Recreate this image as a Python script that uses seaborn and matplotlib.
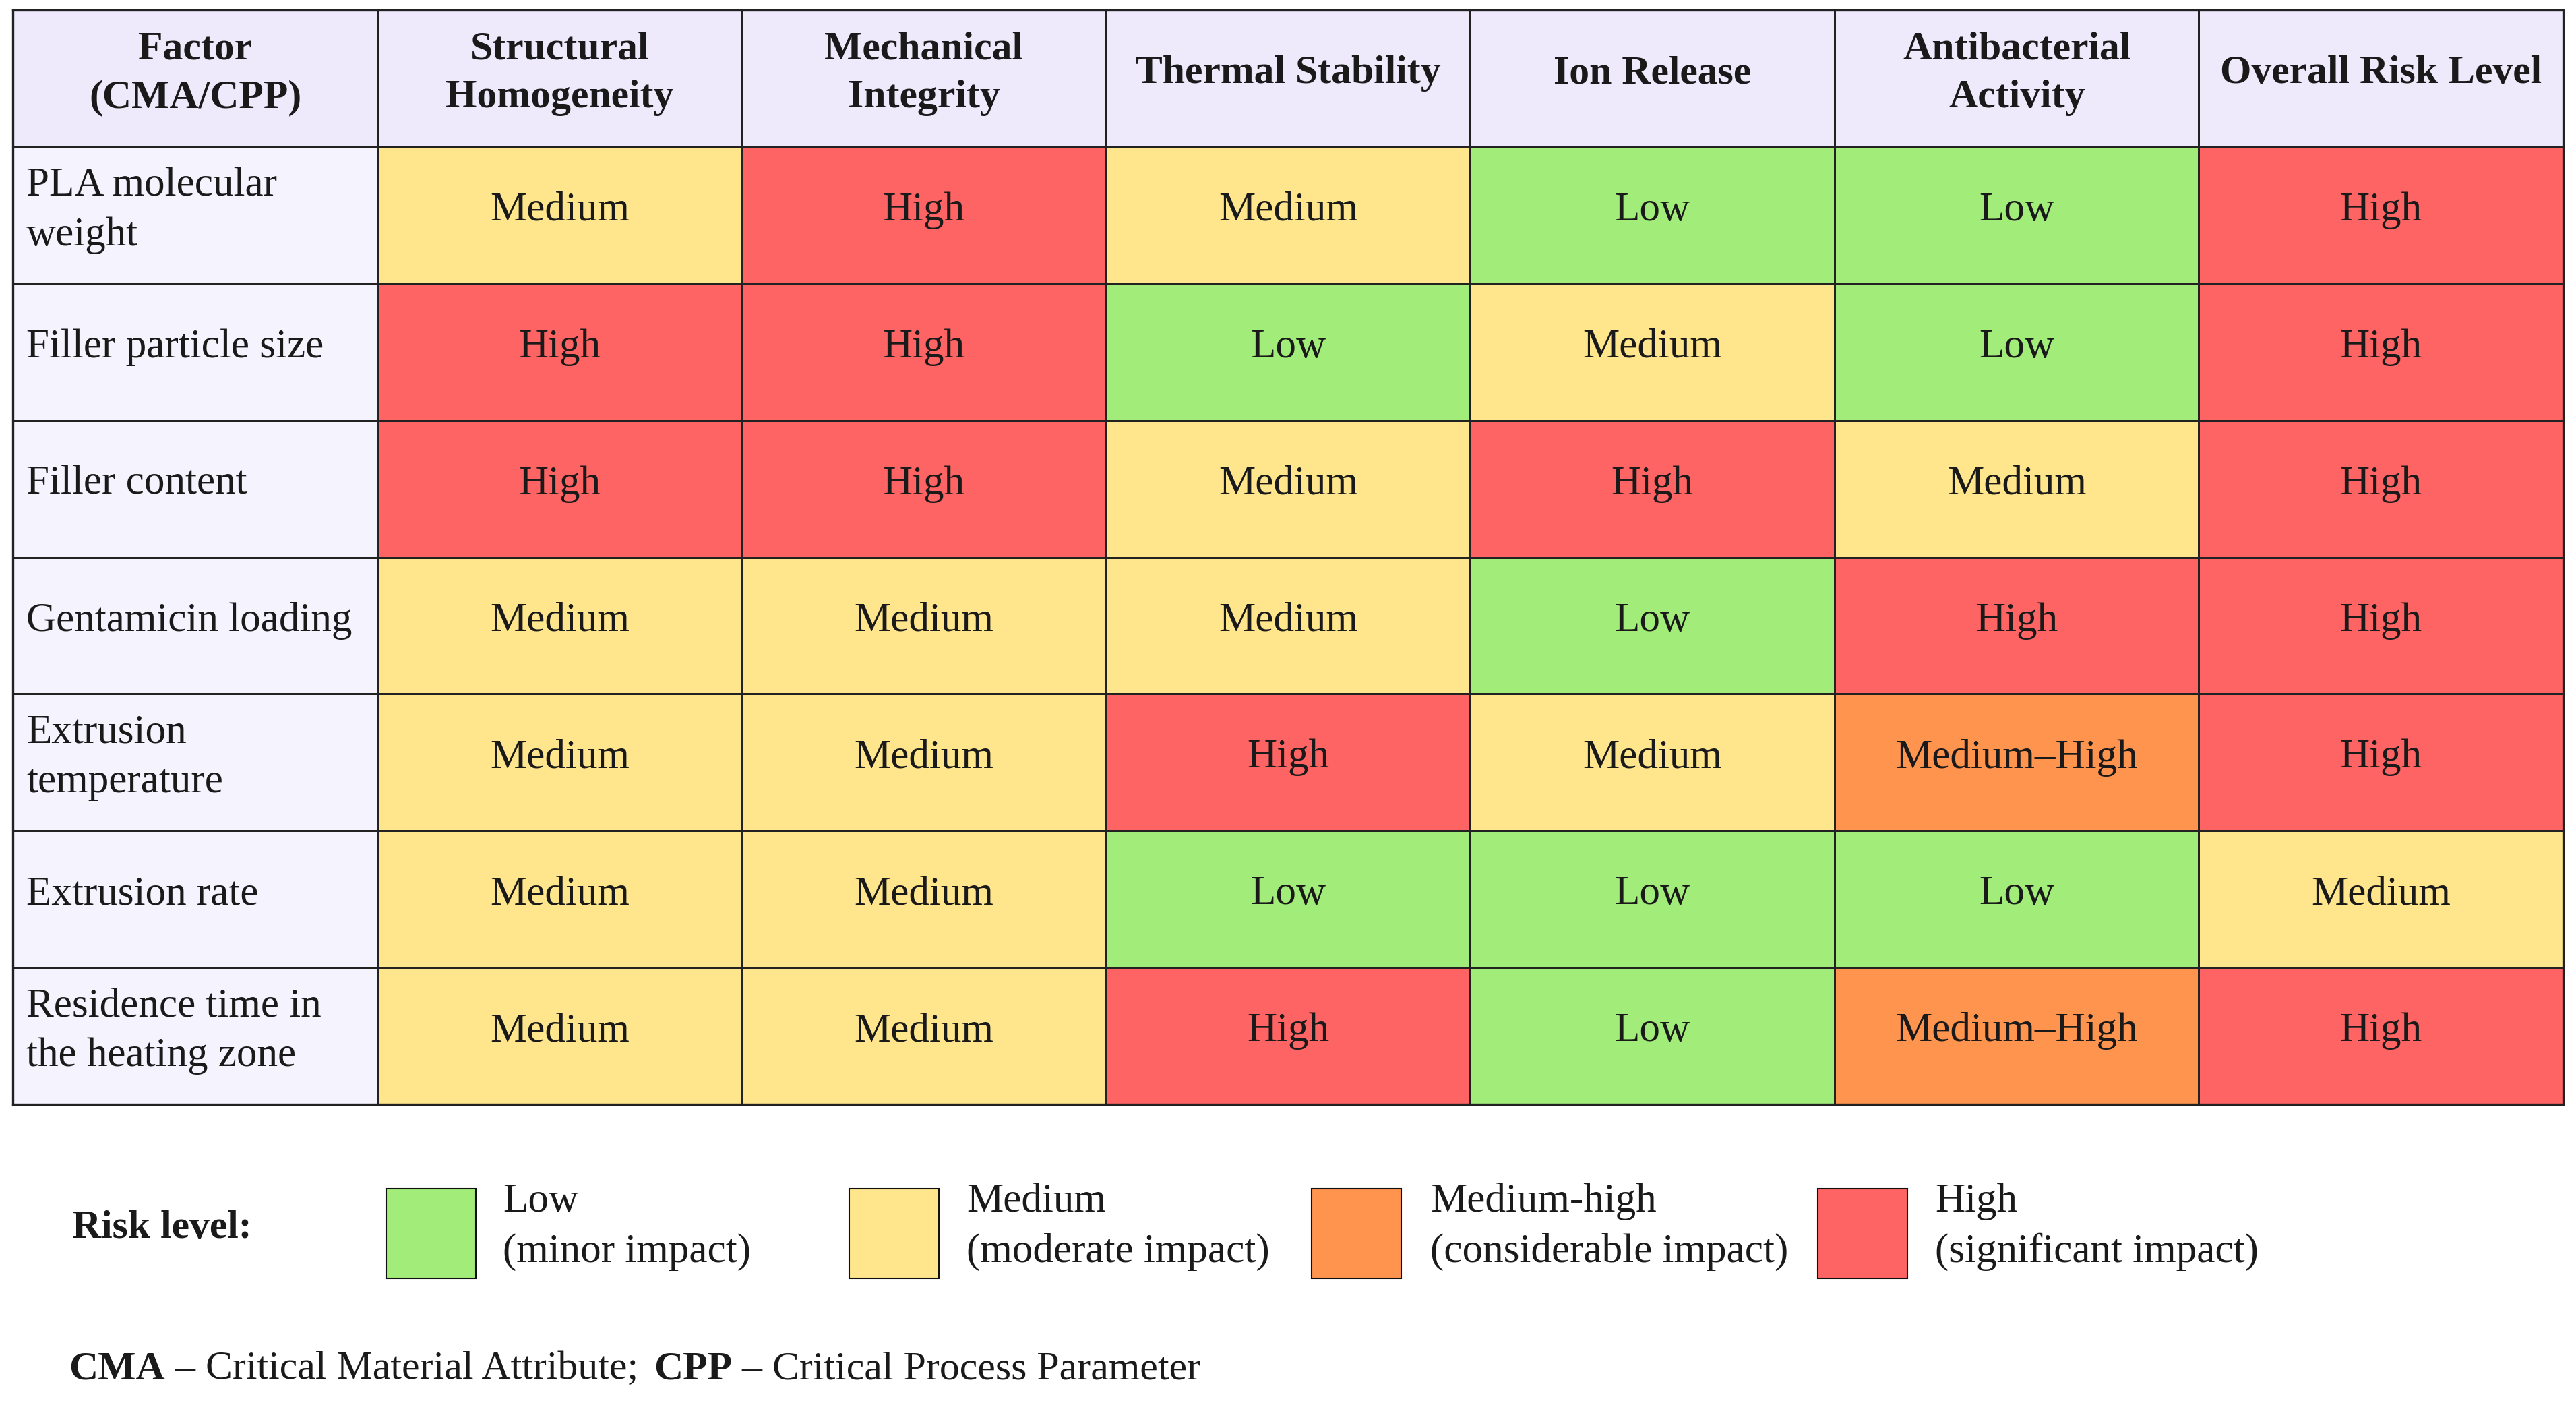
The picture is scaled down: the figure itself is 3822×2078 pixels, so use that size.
import numpy as np
import pandas as pd
import matplotlib
matplotlib.use("Agg")
import matplotlib.pyplot as plt
import seaborn as sns
from matplotlib.colors import ListedColormap
from matplotlib.patches import Rectangle

# ---------------- data ----------------
corner_label = "Factor\n(CMA/CPP)"
attributes = ["Structural\nHomogeneity", "Mechanical\nIntegrity", "Thermal Stability",
              "Ion Release", "Antibacterial\nActivity", "Overall Risk Level"]
factors = ["PLA molecular\nweight", "Filler particle size", "Filler content",
           "Gentamicin loading", "Extrusion\ntemperature", "Extrusion rate",
           "Residence time in\nthe heating zone"]
risk_pla = ["Medium", "High", "Medium", "Low", "Low", "High"]
risk_particle = ["High", "High", "Low", "Medium", "Low", "High"]
risk_content = ["High", "High", "Medium", "High", "Medium", "High"]
risk_gentamicin = ["Medium", "Medium", "Medium", "Low", "High", "High"]
risk_temperature = ["Medium", "Medium", "High", "Medium", "Medium\u2013High", "High"]
risk_rate = ["Medium", "Medium", "Low", "Low", "Low", "Medium"]
risk_residence = ["Medium", "Medium", "High", "Low", "Medium\u2013High", "High"]
risk_rows = [risk_pla, risk_particle, risk_content, risk_gentamicin,
             risk_temperature, risk_rate, risk_residence]

levels = ["Low", "Medium", "Medium\u2013High", "High"]
legend_titles = ["Low", "Medium", "Medium-high", "High"]
legend_notes = ["(minor impact)", "(moderate impact)", "(considerable impact)", "(significant impact)"]

# ---------------- styles ----------------
level_colors = ["#A2ED7A", "#FFE68C", "#FF944F", "#FF6464"]
header_color = "#EEEAFC"
factor_color = "#F5F3FE"
txt_color = "#1a1a1a"
FONT = ["Liberation Serif", "DejaVu Serif"]
FS = 44
FSB = 43
DY = -0.035

sns.set_theme(style="white")
plt.rcParams["font.family"] = FONT

W, H, DPI = 3823, 2078, 100
fig = plt.figure(figsize=(W / DPI, H / DPI), dpi=DPI)
fig.patch.set_facecolor("white")

# table axes in pixel coordinates
tl, tr, tt, tb = 19.5, 3803, 15, 1638
ax = fig.add_axes([tl / W, 1 - tb / H, (tr - tl) / W, (tb - tt) / H])

n_r = len(factors) + 1
n_c = len(attributes) + 1
codes = np.zeros((n_r, n_c))
codes[0, :] = 4
codes[1:, 0] = 5
for i, row in enumerate(risk_rows):
    for j, v in enumerate(row):
        codes[i + 1, j + 1] = levels.index(v)

cmap = ListedColormap(level_colors + [header_color, factor_color])
df = pd.DataFrame(codes)
sns.heatmap(df, ax=ax, cmap=cmap, vmin=-0.5, vmax=5.5, cbar=False,
            linewidths=1.8, linecolor="#222222")
ax.set_xticks([])
ax.set_yticks([])
ax.set_xlabel("")
ax.set_ylabel("")
for s in ax.spines.values():
    s.set_visible(True)
    s.set_linewidth(2.4)
    s.set_color("#222222")

# cell values
for i, row in enumerate(risk_rows):
    for j, v in enumerate(row):
        ax.text(j + 1.5, i + 1.5 + DY, v, ha="center", va="center", fontsize=FS,
                color=txt_color, family=FONT)
# header texts
hdr = [corner_label] + attributes
for j, t in enumerate(hdr):
    ax.text(j + 0.5, 0.5 + DY, t, ha="center", va="center", fontsize=FSB,
            fontweight="bold", color=txt_color, linespacing=1.42, family=FONT)
# factor labels
for i, t in enumerate(factors):
    ax.text(0.036, i + 1.5 + DY, t, ha="left", va="center", fontsize=FS,
            color=txt_color, linespacing=1.42, family=FONT)

# ---------------- legend ----------------
fig.text(107 / W, 1 - 1822 / H, "Risk level:", ha="left", va="center",
         fontsize=FSB, fontweight="bold", color=txt_color)
sw_x = [573, 1260, 1946, 2697]
tx_x = [746, 1434, 2122, 2871]
for k in range(4):
    fig.patches.append(Rectangle((sw_x[k] / W, 1 - 1896 / H), 133 / W, 133 / H,
                                 transform=fig.transFigure, facecolor=level_colors[k],
                                 edgecolor="#111111", linewidth=1.5))
    fig.text(tx_x[k] / W, 1 - 1782 / H, legend_titles[k], ha="left", va="center",
             fontsize=FS, color=txt_color)
    fig.text(tx_x[k] / W, 1 - 1857 / H, legend_notes[k], ha="left", va="center",
             fontsize=FS, color=txt_color)

# ---------------- footnote ----------------
parts = [("CMA", "bold"), (" \u2013 Critical Material Attribute; ", "normal"),
         ("CPP", "bold"), (" \u2013 Critical Process Parameter", "normal")]
renderer = fig.canvas.get_renderer()
x = 102
for s, wgt in parts:
    t = fig.text(x / W, 1 - 2031 / H, s, ha="left", va="center",
                 fontsize=FSB if wgt == "bold" else 43,
                 fontweight=wgt, color=txt_color)
    bb = t.get_window_extent(renderer=renderer)
    x += bb.width + (8 if s.endswith("; ") else 0)

fig.savefig("out.png", dpi=DPI, facecolor="white")
